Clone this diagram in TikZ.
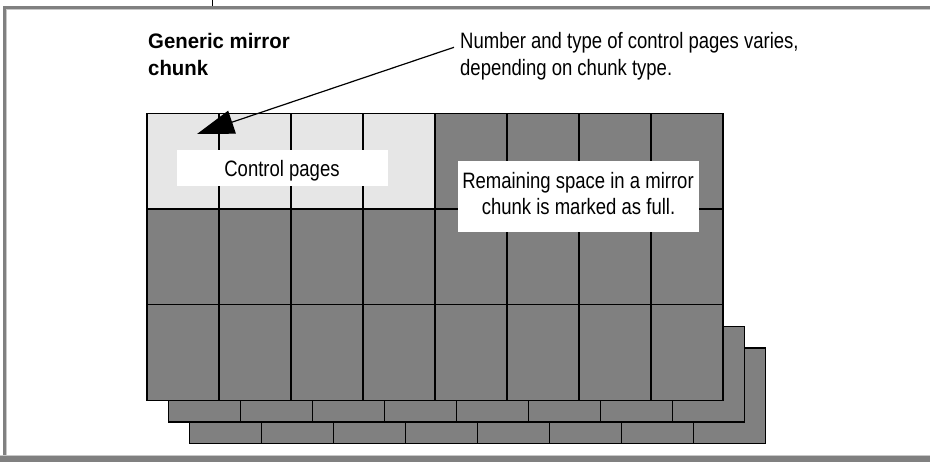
\documentclass[tikz,border=0pt]{standalone}
\usepackage{fontspec}
\setmainfont{Liberation Sans}
\newfontfamily\condfont[FakeStretch=0.83]{Liberation Sans}
\newfontfamily\headfont[FakeStretch=0.97]{Liberation Sans Bold}
\usetikzlibrary{arrows.meta}
\definecolor{cellgray}{RGB}{128,128,128}
\definecolor{celllight}{RGB}{230,230,230}
\definecolor{framegray}{RGB}{128,128,128}
\definecolor{framelight}{RGB}{200,200,200}
\begin{document}
\begin{tikzpicture}[x=1pt,y=-1pt,
  cell/.style={draw=black, line width=1.2pt, fill=cellgray},
  lightcell/.style={draw=black, line width=1.2pt, fill=celllight},
  whitebox/.style={fill=white, draw=none, inner sep=0pt},
  bodytext/.style={inner sep=0pt, font=\condfont\fontsize{22.3}{26.7}\selectfont},
  headtext/.style={inner sep=0pt, anchor=base west, font=\headfont\fontsize{21}{27}\selectfont},
  pointer/.style={line width=1.2pt, -{Triangle[length=37pt,width=24pt]}}]
\useasboundingbox (0,0) rectangle (930,462);
% frame
\fill[framegray] (3,6) rectangle (930,9);
\fill[framelight] (6,9) rectangle (930,10);
\fill[framegray] (3,6) rectangle (6,456);
\fill[framelight] (6,9) rectangle (7,455);
\fill[framelight] (0,455) rectangle (930,456);
\fill[framegray] (0,456) rectangle (930,462);
\draw[line width=1pt] (212,0) -- (212,6);
% stacked chunk rows behind
\foreach \dx/\dy in {42.3/43.4, 21.1/21.7} {
  \foreach \c in {0,...,7} {
    \draw[cell] ({147+\dx+72*\c},{304.7+\dy}) rectangle ++(72,95.7);
  }
}
% main chunk
\foreach \c in {0,...,7} {
  \foreach \r in {0,1,2} {
    \draw[cell] ({147+72*\c},{113.3+95.7*\r}) rectangle ++(72,95.7);
  }
}
\foreach \c in {0,...,3} {
  \draw[lightcell] ({147+72*\c},113.3) rectangle ++(72,95.7);
}
% labels
\node[headtext] (h1) at (148,48.3) {Generic mirror};
\node[headtext] (h2) at (148,75.6) {chunk};
\node[bodytext, anchor=base west] (n1) at (460,48.3) {Number and type of control pages varies,};
\node[bodytext, anchor=base west] (n2) at (460,75.3) {depending on chunk type.};
\node[whitebox, minimum width=211pt, minimum height=35.7pt] (ctrlbox) at (282.2,167.9) {};
\node[bodytext, anchor=base] (ctrltext) at (282,176.5) {Control pages};
\node[whitebox, minimum width=241.3pt, minimum height=70.7pt] (restbox) at (578.4,196.4) {};
\node[bodytext, anchor=base] (rest1) at (578,188.3) {Remaining space in a mirror};
\node[bodytext, anchor=base] (rest2) at (578.5,215) {chunk is marked as full.};
% pointer
\coordinate (astart) at (454,47.3);
\coordinate (atip) at (197,134);
\draw[pointer] (astart) -- (atip);
\end{tikzpicture}
\end{document}
